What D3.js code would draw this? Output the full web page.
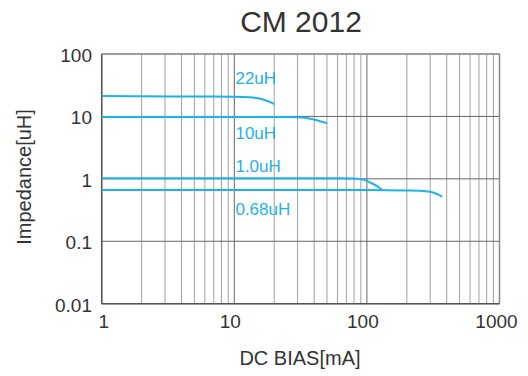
<!DOCTYPE html>
<html>
<head>
<meta charset="utf-8">
<script src="https://cdn.jsdelivr.net/npm/d3@7"></script>
<style>
  body { margin: 0; background: #fff; }
  text { font-family: "Liberation Sans", Arial, sans-serif; }
</style>
</head>
<body>
<svg id="chart" width="528" height="376"></svg>
<script>
const svg = d3.select("#chart");

// curves: [DC bias mA, inductance uH]
const curve22 = [[1, 21.3], [2, 21.0], [5, 20.9], [10, 20.7], [13, 20.3], [15, 19.6], [17, 18.3], [20, 15.8]];
const curve10 = [[1, 9.8], [7, 9.8], [10, 9.8], [25, 9.8], [30, 9.7], [35, 9.4], [40, 8.9], [45, 8.3], [50, 7.8]];
const curve1 = [[1, 1.02], [60, 1.02], [80, 1.01], [95, 0.97], [106, 0.87], [120, 0.76], [130, 0.67]];
const curve068 = [[1, 0.66], [100, 0.66], [200, 0.65], [280, 0.635], [320, 0.6], [345, 0.56], [370, 0.52]];
const curveLabels = ["22uH", "10uH", "1.0uH", "0.68uH"];
// label anchor in data units (left edge, baseline)
const labelAt = [[10.2, 33], [10.2, 4.4], [10.2, 1.27], [10.2, 0.265]];

const xTicks = [1, 10, 100, 1000];
const yTicks = [0.01, 0.1, 1, 10, 100];
const yTickLabels = ["0.01", "0.1", "1", "10", "100"];

const CYAN = "#1eb2ea";
const plotLeft = 101.7, plotRight = 499.5, plotTop = 54, plotBottom = 303.7;

let xscale = d3.scaleLog().domain([1, 1000]).range([plotLeft, plotRight]);
let yscale = d3.scaleLog().domain([0.01, 100]).range([plotBottom, plotTop]);

function main() {
    drawGrid();
    drawCurves();
    drawTexts();
}

function drawGrid() {
    // minor vertical lines 2..9 in every decade
    let minors = [];
    for (let d = 1; d < 1000; d *= 10) {
        for (let k = 2; k <= 9; k++) minors.push(d * k);
    }
    svg.selectAll(".minor").data(minors).join("line")
        .attr("class", "minor")
        .attr("x1", d => xscale(d)).attr("x2", d => xscale(d))
        .attr("y1", plotTop).attr("y2", plotBottom)
        .attr("stroke", "#a0a0a0").attr("stroke-width", 1);

    svg.selectAll(".vmajor").data(xTicks).join("line")
        .attr("class", "vmajor")
        .attr("x1", d => xscale(d)).attr("x2", d => xscale(d))
        .attr("y1", plotTop).attr("y2", plotBottom)
        .attr("stroke", "#666").attr("stroke-width", 1);

    svg.selectAll(".hmajor").data(yTicks).join("line")
        .attr("class", "hmajor")
        .attr("x1", plotLeft).attr("x2", plotRight)
        .attr("y1", d => yscale(d)).attr("y2", d => yscale(d))
        .attr("stroke", "#666").attr("stroke-width", 1);

    // frame: top and right lighter
    svg.append("line").attr("x1", plotLeft).attr("x2", plotRight).attr("y1", plotTop).attr("y2", plotTop)
        .attr("stroke", "#999").attr("stroke-width", 1.5);
    svg.append("line").attr("x1", plotRight).attr("x2", plotRight).attr("y1", plotTop).attr("y2", plotBottom)
        .attr("stroke", "#888").attr("stroke-width", 1.5);
    svg.append("line").attr("x1", plotLeft).attr("x2", plotLeft).attr("y1", plotTop).attr("y2", plotBottom)
        .attr("stroke", "#555").attr("stroke-width", 1.5);
    svg.append("line").attr("x1", plotLeft).attr("x2", plotRight).attr("y1", plotBottom).attr("y2", plotBottom)
        .attr("stroke", "#555").attr("stroke-width", 1.5);
}

function drawCurves() {
    const line = d3.line()
        .x(d => xscale(d[0]))
        .y(d => yscale(d[1]))
        .curve(d3.curveMonotoneX);
    svg.selectAll(".curve").data([curve22, curve10, curve1, curve068]).join("path")
        .attr("class", "curve")
        .attr("d", line)
        .attr("fill", "none")
        .attr("stroke", CYAN)
        .attr("stroke-width", 2);

    svg.selectAll(".clabel").data(curveLabels).join("text")
        .attr("class", "clabel")
        .attr("x", (_, i) => xscale(labelAt[i][0]))
        .attr("y", (_, i) => yscale(labelAt[i][1]))
        .attr("fill", CYAN)
        .attr("font-size", 17)
        .text(d => d);
}

function drawTexts() {
    svg.append("text")
        .attr("x", 301).attr("y", 32)
        .attr("text-anchor", "middle")
        .attr("font-size", 30)
        .attr("fill", "#333")
        .text("CM 2012");

    svg.selectAll(".ylab").data(yTicks).join("text")
        .attr("class", "ylab")
        .attr("x", 92)
        .attr("y", d => yscale(d) + 8)
        .attr("text-anchor", "end")
        .attr("font-size", 19)
        .attr("fill", "#333")
        .text((_, i) => yTickLabels[i]);

    svg.selectAll(".xlab").data(xTicks).join("text")
        .attr("class", "xlab")
        .attr("x", d => xscale(d) + (d == 1 ? 2 : d == 1000 ? -3 : -4))
        .attr("y", plotBottom + 24)
        .attr("text-anchor", "middle")
        .attr("font-size", 19)
        .attr("fill", "#333")
        .text(d => d);

    svg.append("text")
        .attr("x", 300).attr("y", 365)
        .attr("text-anchor", "middle")
        .attr("font-size", 20)
        .attr("fill", "#333")
        .text("DC BIAS[mA]");

    svg.append("text")
        .attr("transform", "translate(31,177) rotate(-90)")
        .attr("text-anchor", "middle")
        .attr("font-size", 20)
        .attr("fill", "#333")
        .text("Impedance[uH]");
}

main();
</script>
</body>
</html>
